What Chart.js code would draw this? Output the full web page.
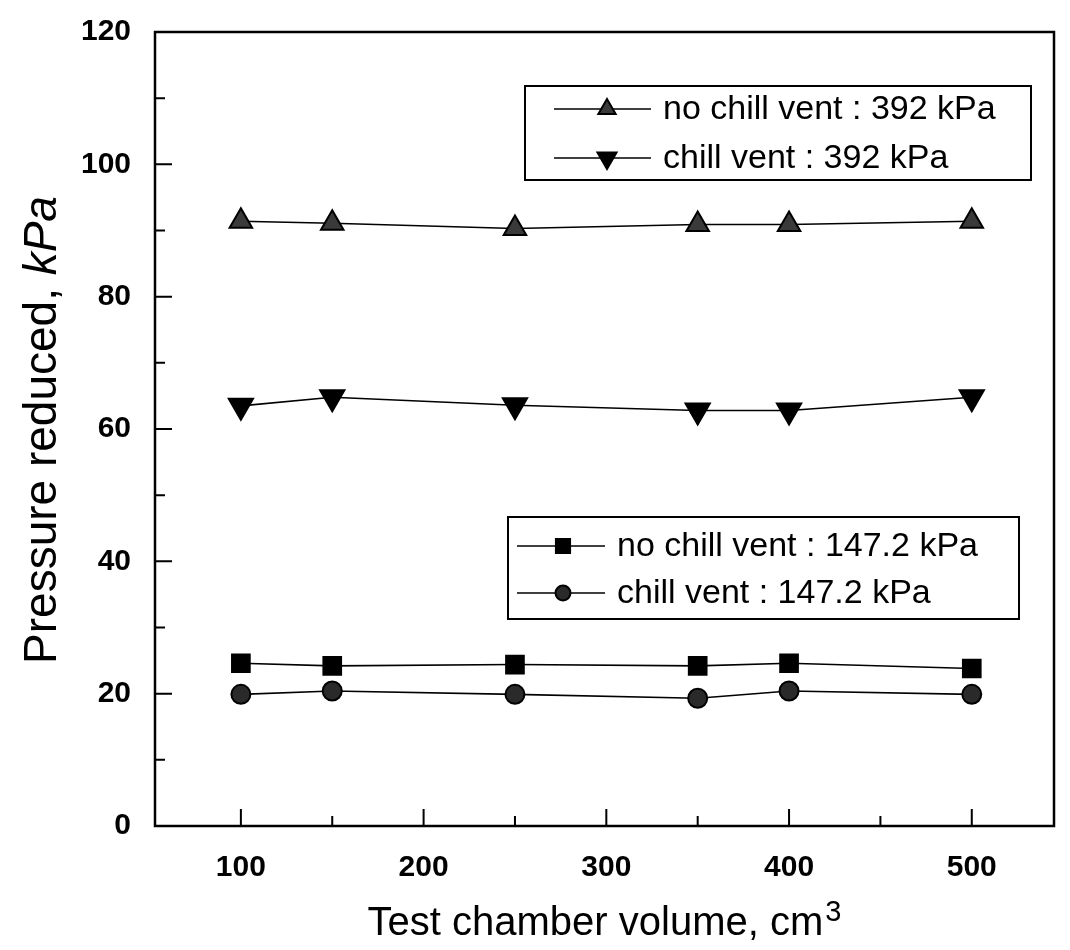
<!DOCTYPE html>
<html>
<head>
<meta charset="utf-8">
<script src="https://cdn.jsdelivr.net/npm/chart.js@4/dist/chart.umd.min.js"></script>
<style>
  html, body { margin: 0; padding: 0; background: #fff; }
  #wrap { width: 1070px; height: 950px; position: relative; }
</style>
</head>
<body>
<div id="wrap"><canvas id="chart" width="1070" height="950"></canvas></div>
<script>
// chamber volume (cm3) and reduced pressure (kPa)
const volumes = [100, 150, 250, 350, 400, 500];
const noChill392 = [91.4, 91.1, 90.3, 90.9, 90.9, 91.4];
const chill392 = [63.5, 64.8, 63.6, 62.8, 62.8, 64.8];
const noChill147 = [24.6, 24.2, 24.4, 24.2, 24.6, 23.8];
const chill147 = [19.9, 20.4, 19.9, 19.3, 20.4, 19.9];

const xTicks = [100, 200, 300, 400, 500];
const xMinor = [150, 250, 350, 450];
const yTicks = [0, 20, 40, 60, 80, 100, 120];
const yMinor = [10, 30, 50, 70, 90, 110];

const FONT = '"Liberation Sans", Arial, sans-serif';
const INK = '#000';

const markers = [
  { pointStyle: 'triangle', radius: 13,   rotation: 0,   fill: '#3a3a3a' },
  { pointStyle: 'triangle', radius: 14,   rotation: 180, fill: '#000' },
  { pointStyle: 'rect',     radius: 12.5, rotation: 0,   fill: '#000' },
  { pointStyle: 'circle',   radius: 9.5,  rotation: 0,   fill: '#2a2a2a' },
];
const legendMarkers = [
  { pointStyle: 'triangle', radius: 10, rotation: 0,   fill: '#3a3a3a' },
  { pointStyle: 'triangle', radius: 11, rotation: 180, fill: '#000' },
  { pointStyle: 'rect',     radius: 10, rotation: 0,   fill: '#000' },
  { pointStyle: 'circle',   radius: 7.5, rotation: 0,  fill: '#2a2a2a' },
];

function series(label, values, m) {
  return {
    label,
    data: volumes.map((v, i) => ({ x: v, y: values[i] })),
    borderColor: INK,
    borderWidth: 1.6,
    pointStyle: m.pointStyle,
    pointRadius: m.radius,
    pointRotation: m.rotation,
    pointBackgroundColor: m.fill,
    pointBorderColor: INK,
    pointBorderWidth: 2,
    tension: 0,
  };
}

const datasets = [
  series('no chill vent : 392 kPa', noChill392, markers[0]),
  series('chill vent : 392 kPa', chill392, markers[1]),
  series('no chill vent : 147.2 kPa', noChill147, markers[2]),
  series('chill vent : 147.2 kPa', chill147, markers[3]),
];

// two separate framed legend boxes, like the original
const legendBoxes = [
  { left: 525, top: 86, right: 1031, bottom: 180, rows: [0, 1], rowY: [109, 158], line: [29, 126], mark: 82, text: 138 },
  { left: 508, top: 517, right: 1019, bottom: 619, rows: [2, 3], rowY: [546, 593], line: [9, 97], mark: 55, text: 109 },
];

function drawMarker(ctx, m, x, y) {
  ctx.save();
  ctx.fillStyle = m.fill;
  ctx.strokeStyle = INK;
  ctx.lineWidth = 2;
  Chart.helpers.drawPoint(ctx, { pointStyle: m.pointStyle, radius: m.radius, rotation: m.rotation, borderWidth: 2 }, x, y);
  ctx.restore();
}

const framePlugin = {
  id: 'frame',
  afterDraw(chart) {
    const { ctx, chartArea: a, scales: { x, y } } = chart;
    ctx.save();
    ctx.strokeStyle = INK;
    ctx.lineWidth = 2.5;
    ctx.strokeRect(a.left, a.top, a.right - a.left, a.bottom - a.top);

    // inward ticks on left and bottom
    ctx.lineWidth = 2;
    ctx.beginPath();
    yTicks.forEach(v => { const p = y.getPixelForValue(v); ctx.moveTo(a.left, p); ctx.lineTo(a.left + 17, p); });
    yMinor.forEach(v => { const p = y.getPixelForValue(v); ctx.moveTo(a.left, p); ctx.lineTo(a.left + 10, p); });
    xTicks.forEach(v => { const p = x.getPixelForValue(v); ctx.moveTo(p, a.bottom); ctx.lineTo(p, a.bottom - 17); });
    xMinor.forEach(v => { const p = x.getPixelForValue(v); ctx.moveTo(p, a.bottom); ctx.lineTo(p, a.bottom - 10); });
    ctx.stroke();

    // x title with superscript 3
    ctx.fillStyle = INK;
    ctx.textBaseline = 'alphabetic';
    ctx.textAlign = 'left';
    const t1 = 'Test chamber volume, cm';
    ctx.font = '40px ' + FONT;
    const w1 = ctx.measureText(t1).width;
    ctx.font = '29px ' + FONT;
    const w3 = ctx.measureText('3').width;
    const x0 = (a.left + a.right) / 2 - (w1 + w3 + 2) / 2;
    ctx.font = '40px ' + FONT;
    ctx.fillText(t1, x0, 935);
    ctx.font = '29px ' + FONT;
    ctx.fillText('3', x0 + w1 + 2, 921);

    // y title, italic unit
    ctx.save();
    ctx.translate(56, 430);
    ctx.rotate(-Math.PI / 2);
    const s1 = 'Pressure reduced, ';
    ctx.font = '46px ' + FONT;
    const ws1 = ctx.measureText(s1).width;
    ctx.font = 'italic 46px ' + FONT;
    const ws2 = ctx.measureText('kPa').width;
    const sx = -(ws1 + ws2) / 2;
    ctx.font = '46px ' + FONT;
    ctx.fillText(s1, sx, 0);
    ctx.font = 'italic 46px ' + FONT;
    ctx.fillText('kPa', sx + ws1, 0);
    ctx.restore();

    // legends
    legendBoxes.forEach(b => {
      ctx.lineWidth = 2;
      ctx.strokeStyle = INK;
      ctx.strokeRect(b.left, b.top, b.right - b.left, b.bottom - b.top);
      b.rows.forEach((di, k) => {
        const ry = b.rowY[k];
        ctx.beginPath();
        ctx.lineWidth = 1.6;
        ctx.moveTo(b.left + b.line[0], ry);
        ctx.lineTo(b.left + b.line[1], ry);
        ctx.stroke();
        drawMarker(ctx, legendMarkers[di], b.left + b.mark, ry);
        ctx.fillStyle = INK;
        ctx.font = '34px ' + FONT;
        ctx.textAlign = 'left';
        ctx.textBaseline = 'middle';
        ctx.fillText(datasets[di].label, b.left + b.text, ry + 1);
      });
    });
    ctx.restore();
  }
};

new Chart(document.getElementById('chart'), {
  type: 'line',
  data: { datasets },
  options: {
    responsive: false,
    animation: false,
    layout: { padding: { top: 32, right: 13, left: 0, bottom: 0 } },
    plugins: { legend: { display: false }, tooltip: { enabled: false } },
    scales: {
      x: {
        type: 'linear',
        min: 53,
        max: 545,
        afterBuildTicks: s => { s.ticks = xTicks.map(v => ({ value: v })); },
        afterFit: s => { s.height = 124; s.paddingLeft = 0; s.paddingRight = 0; },
        grid: { display: false, drawTicks: false },
        border: { display: false },
        ticks: { color: INK, padding: 24, maxRotation: 0, font: { family: FONT, size: 30, weight: 'bold' } },
      },
      y: {
        min: 0,
        max: 120,
        afterBuildTicks: s => { s.ticks = yTicks.map(v => ({ value: v })); },
        afterFit: s => { s.width = 155; s.paddingTop = 0; s.paddingBottom = 0; },
        grid: { display: false, drawTicks: false },
        border: { display: false },
        ticks: { color: INK, padding: 24, font: { family: FONT, size: 30, weight: 'bold' } },
      },
    },
  },
  plugins: [framePlugin],
});
</script>
</body>
</html>
